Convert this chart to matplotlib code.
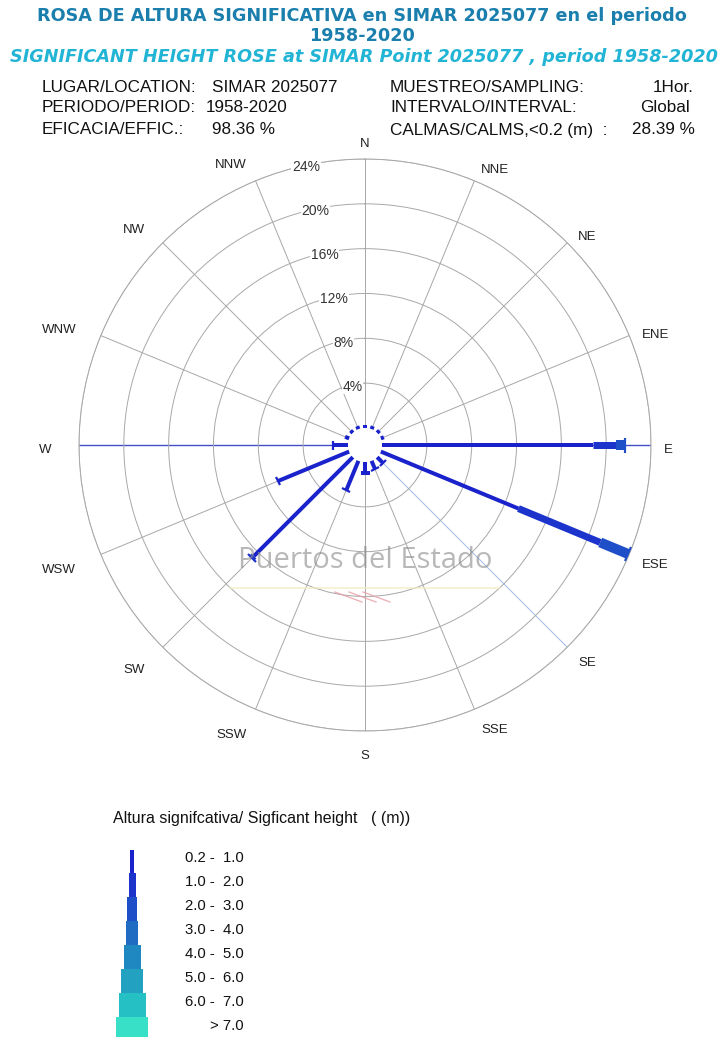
import numpy as np
import matplotlib.pyplot as plt
from matplotlib.markers import MarkerStyle
from matplotlib.transforms import Affine2D, offset_copy

# directions (clockwise from N) and % of records per height class
dirs = ['N', 'NNE', 'NE', 'ENE', 'E', 'ESE', 'SE', 'SSE',
        'S', 'SSW', 'SW', 'WSW', 'W', 'WNW', 'NW', 'NNW']
h_02_10 = [0.3, 0.3, 0.3, 0.3, 18.8, 13.3, 0.8, 0.8, 1.0, 2.8, 12.5, 6.9, 1.3, 0.4, 0.3, 0.3]
h_10_20 = [0, 0, 0, 0, 2.1, 7.9, 0, 0, 0, 0, 0.2, 0, 0, 0, 0, 0]
h_20_30 = [0, 0, 0, 0, 0.8, 2.7, 0, 0, 0, 0, 0, 0, 0, 0, 0, 0]
h_30_40 = [0] * 16
h_40_50 = [0] * 16
h_50_60 = [0] * 16
h_60_70 = [0] * 16
h_gt_70 = [0] * 16
classes = [h_02_10, h_10_20, h_20_30, h_30_40, h_40_50, h_50_60, h_60_70, h_gt_70]
class_labels = ['0.2 -  1.0', '1.0 -  2.0', '2.0 -  3.0', '3.0 -  4.0',
                '4.0 -  5.0', '5.0 -  6.0', '6.0 -  7.0', '> 7.0']
class_colors = ['#1a22cc', '#1c34cc', '#1f4fc8', '#1f6cc2',
                '#2088c0', '#22a2c0', '#24c0c4', '#38e0c8']
class_width_px = [4, 7, 10, 12, 17, 22, 27, 32]
rings = [4, 8, 12, 16, 20, 24]

fig = plt.figure(figsize=(7.24, 10.5), dpi=100)
W, H = 724, 1050


def ftext(x, y, s, **kw):
    fig.text(x / W, 1 - y / H, s, **kw)


# titles
ftext(362, 16, 'ROSA DE ALTURA SIGNIFICATIVA en SIMAR 2025077 en el periodo',
      ha='center', va='center', fontsize=12.7, fontweight='bold', color='#1b7fae')
ftext(362, 36, '1958-2020', ha='center', va='center', fontsize=12.7,
      fontweight='bold', color='#1b7fae')
ftext(364, 57, 'SIGNIFICANT HEIGHT ROSE at SIMAR Point 2025077 , period 1958-2020',
      ha='center', va='center', fontsize=12.7, fontweight='bold', style='italic',
      color='#22b4d4')

# info block
info = dict(va='center', fontsize=12.3, family='Liberation Sans', color='#111111')
ftext(42, 88, 'LUGAR/LOCATION:', **info)
ftext(212, 88, 'SIMAR 2025077', **info)
ftext(42, 108, 'PERIODO/PERIOD:', **info)
ftext(206, 108, '1958-2020', **info)
ftext(42, 130, 'EFICACIA/EFFIC.:', **info)
ftext(212, 130, '98.36 %', **info)
ftext(390, 88, 'MUESTREO/SAMPLING:', **info)
ftext(653, 88, '1Hor.', **info)
ftext(390, 108, 'INTERVALO/INTERVAL:', **info)
ftext(640, 108, 'Global', **info)
ftext(390, 130, 'CALMAS/CALMS,<0.2 (m)  :', **info)
ftext(632, 130, '28.39 %', **info)

# polar rose
cx, cy, R = 365, 445, 286
ax = fig.add_axes([(cx - R) / W, (H - cy - R) / H, 2 * R / W, 2 * R / H],
                  projection='polar')
ax.set_theta_zero_location('N')
ax.set_theta_direction(-1)
ax.set_ylim(0, 24)
ax.set_rorigin(-1.52)
ax.set_thetagrids(np.arange(0, 360, 22.5), labels=[])
ax.set_rgrids(rings, labels=[])
ax.grid(True, color='#a8a8a8', lw=0.7)
ax.spines['polar'].set_color('#a8a8a8')
ax.spines['polar'].set_linewidth(0.7)
ax.spines['inner'].set_visible(False)
ax.spines['inner'].set_color('none')
gl = ax.xaxis.get_gridlines()
for i in (4, 12):
    gl[i].set_color('#4050c8')
    gl[i].set_linewidth(1.0)
gl[6].set_color('#9fb8e6')

for v in rings:
    ax.text(np.deg2rad(-12), v - 0.2, f'{v}%', ha='center', va='center',
            fontsize=10, family='Liberation Sans', color='#333333',
            bbox=dict(facecolor='white', edgecolor='none', pad=0.5), zorder=3)

lab_tr = offset_copy(ax.transData, fig=fig, x=0, y=-5, units='dots')
for i, d in enumerate(dirs):
    b = np.deg2rad(i * 22.5)
    s = np.sin(b)
    r_px = 306 - 7 * s
    ha = 'center' if abs(s) < 0.1 else ('left' if s > 0 else 'right')
    ax.text(b, (r_px - 17) / 11.2, d, ha=ha, va='center', fontsize=9.5,
            family='Liberation Sans', color='#222222', clip_on=False,
            transform=lab_tr)

px = 0.72  # points per pixel at 100 dpi
for i in range(len(dirs)):
    th = np.deg2rad(i * 22.5)
    r0 = 0
    last = None
    for k, cls in enumerate(classes):
        v = cls[i]
        if v <= 0:
            continue
        ax.plot([th, th], [r0, r0 + v], color=class_colors[k],
                lw=class_width_px[k] * px, solid_capstyle='butt', zorder=4)
        r0 += v
        last = k
    if last is not None and r0 >= 0.5:
        cap = MarkerStyle('|', transform=Affine2D().rotate_deg(90 - i * 22.5))
        ax.plot([th], [r0], marker=cap, ms=(class_width_px[last] + 5) * px,
                mew=2.2 * px, color=class_colors[last], zorder=5)

# watermark
ftext(365, 560, 'Puertos del Estado', ha='center', va='center', fontsize=21,
      family='Open Sans', color='#8a8a8a', alpha=0.6)

# legend
lax = fig.add_axes([0, 0, 1, 1])
lax.set_xlim(0, W)
lax.set_ylim(H, 0)
lax.axis('off')
lax.plot([230, 500], [588, 588], color='#f2ecc0', lw=1.2, alpha=0.8)
for dx in (0, 14, 28):
    lax.plot([335 + dx, 362 + dx], [592, 602], color='#e8a0a8', lw=1.0, alpha=0.8)

ftext(113, 818, 'Altura signifcativa/ Sigficant height   ( (m))', va='center',
      fontsize=11.5, family='Liberation Sans', color='#111111')
tops = [850, 873, 897, 921, 945, 969, 993, 1017]
heights = [23, 24, 24, 24, 24, 24, 24, 20]
lax.bar([132] * 8, heights, bottom=tops, width=class_width_px,
        color=class_colors, align='center')
for k, lab in enumerate(class_labels):
    ftext(244, 858 + 24 * k, lab, ha='right', va='center', fontsize=10.7,
          family='Liberation Sans', color='#111111')

fig.savefig('out.png', dpi=100)
